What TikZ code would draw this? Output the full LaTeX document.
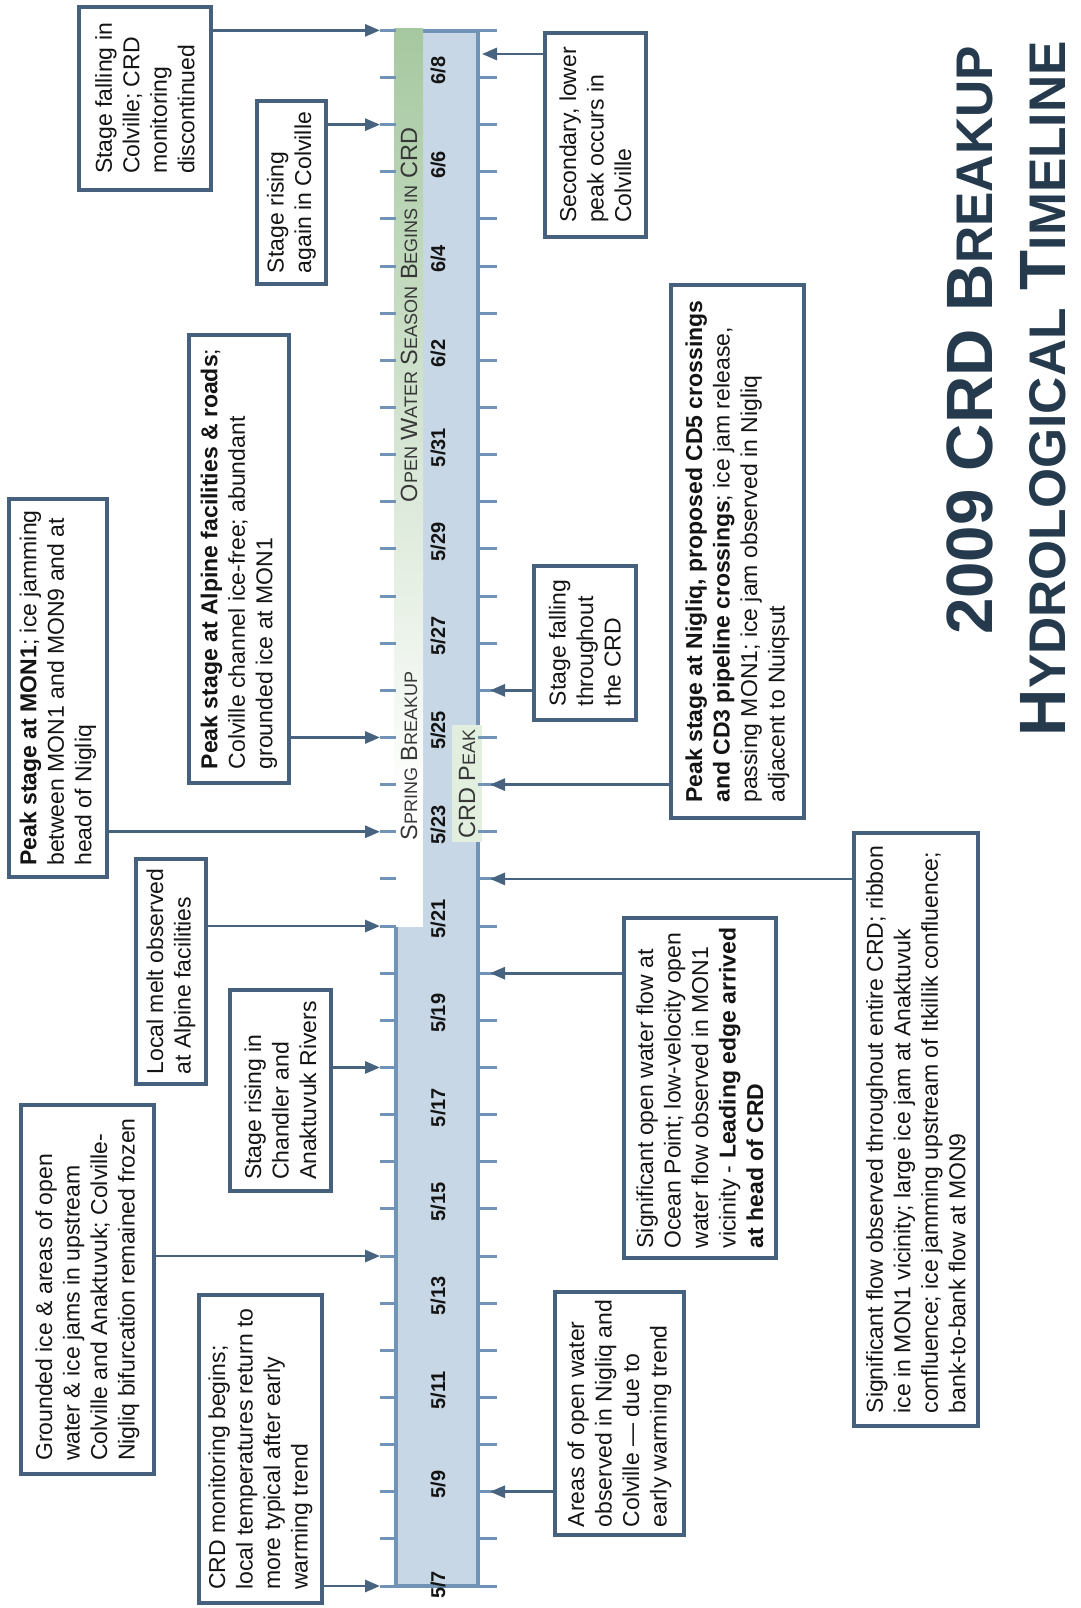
\documentclass[tikz,border=0pt]{standalone}
\usepackage{fontspec}
\setmainfont{Liberation Sans}
\usetikzlibrary{arrows.meta}
\definecolor{boxline}{HTML}{45617D}
\definecolor{connline}{HTML}{47637F}
\definecolor{barfill}{HTML}{C8D7E5}
\definecolor{barline}{HTML}{7194B6}
\definecolor{grn}{HTML}{A6C8A0}
\definecolor{peakfill}{HTML}{E2EEDE}
\definecolor{titlecol}{HTML}{253A4D}
\definecolor{txt}{HTML}{141414}
\newcommand{\smc}[1]{{\fontsize{18}{20}\selectfont #1}}
\newcommand{\tsmc}[1]{{\fontsize{51.5}{52}\selectfont #1}}
\begin{document}
\begin{tikzpicture}[x=1pt,y=-1pt,
  evbox/.style 2 args={draw=boxline, line width=4.5pt, fill=white, rotate=90,
    minimum width=#1, minimum height=#2, align=left, inner sep=6pt,
    text=txt, font=\fontsize{23}{27.5}\selectfont},
  conn/.style={draw=connline, line width=2.8pt, -{Triangle[length=15pt,width=12pt]}},
  tickline/.style={draw=barline, line width=3pt},
  datelbl/.style={rotate=90, font=\fontsize{20}{22}\selectfont\bfseries, text=txt, inner sep=0pt},
  bandlbl/.style={rotate=90, font=\fontsize{23.5}{25}\selectfont, text=txt!85, inner sep=0pt},
  titlelbl/.style={rotate=90, font=\fontsize{65.5}{70}\selectfont\bfseries, text=titlecol, inner sep=0pt, text depth=0pt, anchor=base east}]
\useasboundingbox (0,0) rectangle (1080,1608);
\fill[white] (0,0) rectangle (1080,1608);

% timeline bar
\draw[fill=barfill, draw=barline, line width=3.5pt] (396,31) rectangle (478,1586);
\shade[top color=grn, bottom color=white] (394,29) rectangle (423,800);
\fill[white] (394,799) rectangle (423,927);
\fill[peakfill] (452,725) rectangle (482,842);

% ticks and tick coordinates
\foreach \i in {0,...,33} {
  \draw[tickline] (380,{1586-\i*47.14}) -- (396,{1586-\i*47.14});
  \draw[tickline] (478,{1586-\i*47.14}) -- (497,{1586-\i*47.14});
  \coordinate (L\i) at (380,{1586-\i*47.14});
  \coordinate (R\i) at (490,{1586-\i*47.14});
}
\coordinate (Rsec) at (482,54);

% date labels
\node[datelbl] (d0) at (438,1585) {5/7};
\foreach \i/\m/\d in {2/5/9,4/5/11,6/5/13,8/5/15,10/5/17,12/5/19,14/5/21,16/5/23,18/5/25,20/5/27,22/5/29,24/5/31,26/6/2,28/6/4,30/6/6,32/6/8} {
  \node[datelbl] (d\i) at (438,{1586-\i*47.14-7}) {\m/\d};
}

% band labels
\node[bandlbl] (open) at (409,315) {O\smc{PEN} W\smc{ATER} S\smc{EASON} B\smc{EGINS IN} CRD};
\node[bandlbl] (spring) at (409,756) {S\smc{PRING} B\smc{REAKUP}};
\node[bandlbl] (peak) at (467,784) {CRD P\smc{EAK}};

% title
\node[titlelbl] (title1) at (992,46) {2009 CRD B\tsmc{REAKUP}};
\node[titlelbl] (title2) at (1065,41) {H\tsmc{YDROLOGICAL} T\tsmc{IMELINE}};

% left boxes
\node[evbox={183}{132}] (boxA) at (145,98.5) {Stage falling in\\Colville; CRD\\monitoring\\discontinued};
\node[evbox={183}{69}] (boxB) at (291.5,192.5) {Stage rising\\again in Colville};
\node[evbox={448}{100}] (boxC) at (239,559) {\textbf{Peak stage at Alpine facilities \& roads};\\Colville channel ice-free; abundant\\grounded ice at MON1};
\node[evbox={378}{98}] (boxD) at (58,688) {\textbf{Peak stage at MON1}; ice jamming\\between MON1 and MON9 and at\\head of Nigliq};
\node[evbox={225}{70}] (boxE) at (171,971.5) {Local melt observed\\at Alpine facilities};
\node[evbox={201}{101}] (boxF) at (280.5,1090.5) {Stage rising in\\Chandler and\\Anaktuvuk Rivers};
\node[evbox={369}{133}] (boxG) at (87.5,1289.5) {Grounded ice \& areas of open\\water \& ice jams in upstream\\Colville and Anaktuvuk; Colville-\\Nigliq bifurcation remained frozen};
\node[evbox={308}{123}] (boxH) at (260.5,1449) {CRD monitoring begins;\\local temperatures return to\\more typical after early\\warming trend};

% right boxes
\node[evbox={204}{101}] (boxI) at (595.5,135) {Secondary, lower\\peak occurs in\\Colville};
\node[evbox={533}{133}] (boxJ) at (737.5,551.5) {\textbf{Peak stage at Nigliq, proposed CD5 crossings}\\\textbf{and CD3 pipeline crossings}; ice jam release,\\passing MON1; ice jam observed in Nigliq\\adjacent to Nuiqsut};
\node[evbox={154}{102}] (boxK) at (585,643) {Stage falling\\throughout\\the CRD};
\node[evbox={340}{152}] (boxL) at (700,1088) {Significant open water flow at\\Ocean Point; low-velocity open\\water flow observed in MON1\\vicinity - \textbf{Leading edge arrived}\\\textbf{at head of CRD}};
\node[evbox={593}{124}] (boxM) at (916,1129.5) {Significant flow observed throughout entire CRD; ribbon\\ice in MON1 vicinity; large ice jam at Anaktuvuk\\confluence; ice jamming upstream of Itkillik confluence;\\bank-to-bank flow at MON9};
\node[evbox={243}{129}] (boxN) at (619.5,1413.5) {Areas of open water\\observed in Nigliq and\\Colville --- due to\\early warming trend};

% connectors, left
\draw[conn] (boxA.south |- L33) -- (L33);
\draw[conn] (boxB.south |- L31) -- (L31);
\draw[conn] (boxC.south |- L18) -- (L18);
\draw[conn] (boxD.south |- L16) -- (L16);
\draw[conn] (boxE.south |- L14) -- (L14);
\draw[conn] (boxF.south |- L11) -- (L11);
\draw[conn] (boxG.south |- L7) -- (L7);
\draw[conn] (boxH.south |- L0) -- (L0);
% connectors, right
\draw[conn] (boxI.north |- Rsec) -- (Rsec);
\draw[conn] (boxJ.north |- R17) -- (R17);
\draw[conn] (boxK.north |- R19) -- (R19);
\draw[conn] (boxL.north |- R13) -- (R13);
\draw[conn] (boxM.north |- R15) -- (R15);
\draw[conn] (boxN.north |- R2) -- (R2);
\end{tikzpicture}
\end{document}
